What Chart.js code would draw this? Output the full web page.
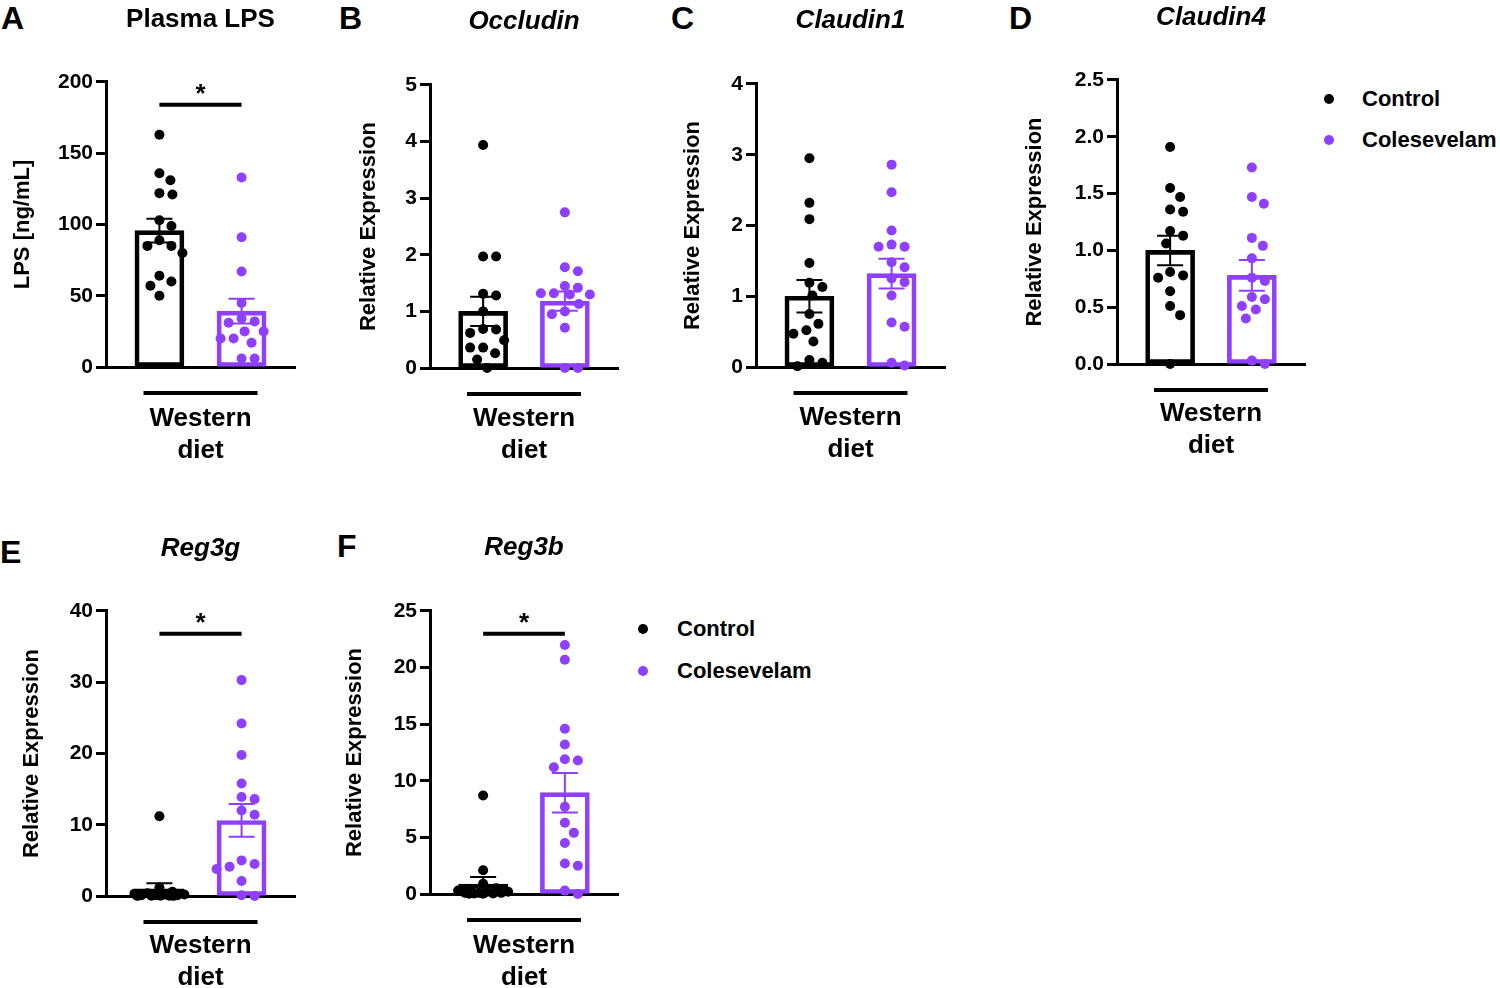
<!DOCTYPE html>
<html lang="en">
<head>
  <meta charset="UTF-8" />
  <title>Western diet – barrier and antimicrobial markers</title>
  <script src="https://cdn.jsdelivr.net/npm/chart.js"></script>
  <style>
    body {
      margin: 0;
      width: 1500px;
      height: 988px;
      overflow: hidden;
      position: relative;
      background: #fff;
      font-family: "Liberation Sans", Arial, sans-serif;
      color: #000;
    }
    .panel { position: absolute; }
    .letter {
      position: absolute;
      font-size: 32px;
      font-weight: bold;
      line-height: 1;
    }
    .legend-row {
      position: absolute;
      height: 26px;
      line-height: 26px;
      font-size: 22px;
      font-weight: bold;
      white-space: nowrap;
    }
    .legend-dot {
      position: absolute;
      width: 10px;
      height: 10px;
      border-radius: 50%;
      top: 8px;
    }
  </style>
</head>
<body>

  <div class="letter" style="left:1px; top:2px;">A</div>
  <div class="letter" style="left:339px; top:2px;">B</div>
  <div class="letter" style="left:671px; top:2px;">C</div>
  <div class="letter" style="left:1009px; top:2px;">D</div>
  <div class="letter" style="left:0px; top:536px;">E</div>
  <div class="letter" style="left:337px; top:530px;">F</div>

  <div id="legendD"></div>
  <div id="legendF"></div>

  <script>
    // ---------------------------------------------------------------
    // Data
    // ---------------------------------------------------------------
    const groups = ['Control', 'Colesevelam'];
    const groupColors = ['#000000', '#8F3FFF'];
    const dietLabel = ['Western', 'diet'];

    const panelTitles = ['Plasma LPS', 'Occludin', 'Claudin1', 'Claudin4', 'Reg3g', 'Reg3b'];
    const yTitles = ['LPS [ng/mL]', 'Relative Expression', 'Relative Expression',
                     'Relative Expression', 'Relative Expression', 'Relative Expression'];
    const yMax = [200, 5, 4, 2.5, 40, 25];
    const yStep = [50, 1, 1, 0.5, 10, 5];
    const significant = [true, false, false, false, true, true];

    // A - Plasma LPS
    const lpsControl = [163, 136, 131, 122, 121, 103, 99, 89, 85, 85, 80, 64, 60, 57, 50];
    const lpsColesevelam = [133, 91, 67, 45, 34, 32, 31, 25, 25, 20, 20, 17, 6, 6];
    const lpsMean = [95.7, 39.2];
    const lpsSem = [8.4, 8.7];

    // B - Occludin
    const occControl = [3.94, 1.97, 1.97, 1.31, 1.28, 1.0, 0.69, 0.68, 0.62, 0.49, 0.36, 0.36, 0.26, 0.15, 0];
    const occColesevelam = [2.75, 1.78, 1.71, 1.45, 1.42, 1.32, 1.32, 1.3, 1.3, 1.13, 1.0, 0.95, 0.71, 0, 0];
    const occMean = [1.0, 1.18];
    const occSem = [0.26, 0.17];

    // C - Claudin1
    const cld1Control = [2.95, 2.32, 2.09, 1.47, 1.19, 1.13, 1.01, 0.75, 0.61, 0.52, 0.47, 0.36, 0.1, 0.06, 0.01];
    const cld1Colesevelam = [2.86, 2.47, 1.93, 1.73, 1.7, 1.7, 1.48, 1.41, 1.25, 1.2, 1.01, 0.63, 0.57, 0.06, 0.02];
    const cld1Mean = [1.0, 1.32];
    const cld1Sem = [0.23, 0.21];

    // D - Claudin4
    const cld4Control = [1.91, 1.55, 1.47, 1.36, 1.34, 1.17, 1.13, 1.06, 0.81, 0.78, 0.76, 0.64, 0.51, 0.43, 0];
    const cld4Colesevelam = [1.73, 1.47, 1.41, 1.11, 1.04, 0.93, 0.76, 0.73, 0.59, 0.57, 0.51, 0.48, 0.4, 0.03, 0];
    const cld4Mean = [1.0, 0.78];
    const cld4Sem = [0.13, 0.135];

    // E - Reg3g
    const reg3gControl = [11.2, 1.2, 0.6, 0.4, 0.3, 0.2, 0.2, 0.1, 0.1, 0.1, 0.05, 0.05, 0.05, 0.02, 0.02];
    const reg3gColesevelam = [30.3, 24.2, 19.8, 15.8, 13.9, 13.6, 12.0, 11.4, 5.0, 4.5, 4.1, 3.8, 2.1, 0.1, 0];
    const reg3gMean = [1.0, 10.6];
    const reg3gSem = [0.8, 2.3];

    // F - Reg3b
    const reg3bControl = [8.7, 2.1, 0.9, 0.5, 0.4, 0.3, 0.2, 0.2, 0.1, 0.1, 0.1, 0.05, 0.05, 0.02, 0.02];
    const reg3bColesevelam = [22.0, 20.7, 14.6, 13.2, 11.9, 11.8, 11.2, 7.7, 6.3, 5.4, 4.5, 2.7, 2.5, 0.3, 0];
    const reg3bMean = [0.88, 8.95];
    const reg3bSem = [0.62, 1.75];

    const points = [
      [lpsControl, lpsColesevelam],
      [occControl, occColesevelam],
      [cld1Control, cld1Colesevelam],
      [cld4Control, cld4Colesevelam],
      [reg3gControl, reg3gColesevelam],
      [reg3bControl, reg3bColesevelam]
    ];
    const means = [lpsMean, occMean, cld1Mean, cld4Mean, reg3gMean, reg3bMean];
    const sems = [lpsSem, occSem, cld1Sem, cld4Sem, reg3gSem, reg3bSem];

    // ---------------------------------------------------------------
    // Page layout (pixel boxes of each panel)
    // ---------------------------------------------------------------
    const layouts = [
      { left: 0,   top: 0,   w: 330, h: 480, axisX: 106,  plotTop: 82,  plotBottom: 367, plotRight: 295,  titleMid: 20,  yTitleX: 23,   westernY: 419 },
      { left: 330, top: 0,   w: 330, h: 480, axisX: 430,  plotTop: 85,  plotBottom: 368, plotRight: 618,  titleMid: 22,  yTitleX: 369,  westernY: 419 },
      { left: 660, top: 0,   w: 330, h: 480, axisX: 756,  plotTop: 84,  plotBottom: 367, plotRight: 945,  titleMid: 21,  yTitleX: 693,  westernY: 418 },
      { left: 990, top: 0,   w: 330, h: 480, axisX: 1117, plotTop: 80,  plotBottom: 364, plotRight: 1305, titleMid: 18,  yTitleX: 1035, westernY: 414 },
      { left: 0,   top: 520, w: 330, h: 480, axisX: 106,  plotTop: 611, plotBottom: 896, plotRight: 295,  titleMid: 549, yTitleX: 32,   westernY: 946 },
      { left: 330, top: 520, w: 310, h: 480, axisX: 430,  plotTop: 611, plotBottom: 894, plotRight: 618,  titleMid: 548, yTitleX: 355,  westernY: 946 }
    ];

    const FONT = '"Liberation Sans", Arial, sans-serif';
    Chart.defaults.font.family = FONT;
    Chart.defaults.color = '#000';

    const X_MIN = 0.35, X_MAX = 2.65;
    const DOT_R = 5;

    // simple beeswarm: horizontal pixel offsets so the dots do not pile up
    function swarmOffsets(values, pxPerUnit) {
      const placed = [];
      return values.map(v => {
        const y = v * pxPerUnit;
        let best = 0, bestD = -1;
        for (let k = 0; k <= 50; k++) {
          const o = (k % 2 ? 1 : -1) * Math.ceil(k / 2);
          let d = Infinity;
          placed.forEach(p => { d = Math.min(d, Math.hypot(p.x - o, p.y - y)); });
          if (d >= 13) { best = o; bestD = d; break; }
          if (d > bestD) { bestD = d; best = o; }
        }
        placed.push({ x: best, y });
        return best;
      });
    }

    // error bars, significance bar and group line under the axis
    const decorations = {
      id: 'decorations',
      afterDraw(chart, args, opts) {
        const { ctx, chartArea } = chart;
        const x = chart.scales.x, y = chart.scales.y;
        ctx.save();
        opts.mean.forEach((m, i) => {
          const cx = x.getPixelForValue(i + 1);
          const top = y.getPixelForValue(m + opts.sem[i]);
          const bot = y.getPixelForValue(Math.max(0, m - opts.sem[i]));
          ctx.strokeStyle = groupColors[i];
          ctx.lineWidth = 2;
          ctx.beginPath();
          ctx.moveTo(cx, top); ctx.lineTo(cx, bot);
          ctx.moveTo(cx - 13, top); ctx.lineTo(cx + 13, top);
          ctx.moveTo(cx - 13, bot); ctx.lineTo(cx + 13, bot);
          ctx.stroke();
        });

        const x1 = x.getPixelForValue(1), x2 = x.getPixelForValue(2);
        const mid = (x1 + x2) / 2;
        ctx.strokeStyle = '#000';
        ctx.lineWidth = 4;
        ctx.beginPath();
        ctx.moveTo(mid - 57, chartArea.bottom + 26);
        ctx.lineTo(mid + 57, chartArea.bottom + 26);
        ctx.stroke();

        if (opts.significant) {
          const ly = y.getPixelForValue(y.max * 0.92);
          ctx.beginPath();
          ctx.moveTo(x1, ly); ctx.lineTo(x2, ly);
          ctx.stroke();
          ctx.fillStyle = '#000';
          ctx.font = 'bold 26px ' + FONT;
          ctx.textAlign = 'center';
          ctx.textBaseline = 'alphabetic';
          ctx.fillText('*', mid, ly - 3);
        }
        ctx.restore();
      }
    };

    function makePanel(idx) {
      const L = layouts[idx];
      const wrap = document.createElement('div');
      wrap.className = 'panel';
      wrap.style.left = L.left + 'px';
      wrap.style.top = L.top + 'px';
      const canvas = document.createElement('canvas');
      canvas.width = L.w;
      canvas.height = L.h;
      wrap.appendChild(canvas);
      document.body.appendChild(wrap);

      const plotH = L.plotBottom - L.plotTop;
      const plotW = L.plotRight - L.axisX;
      const pxPerX = plotW / (X_MAX - X_MIN);
      const pxPerY = plotH / yMax[idx];

      const scatterSets = points[idx].map((vals, g) => {
        const offs = swarmOffsets(vals, pxPerY);
        return {
          type: 'scatter',
          label: groups[g],
          data: vals.map((v, i) => ({ x: g + 1 + offs[i] / pxPerX, y: v })),
          backgroundColor: groupColors[g],
          borderWidth: 0,
          pointRadius: DOT_R,
          clip: false,
          order: 1
        };
      });

      const barSet = {
        type: 'bar',
        label: 'mean',
        data: means[idx].map((m, g) => ({ x: g + 1, y: m })),
        backgroundColor: 'rgba(255,255,255,0)',
        borderColor: groupColors,
        borderWidth: 4,
        borderSkipped: false,
        barThickness: 49,
        clip: false,
        order: 2
      };

      const titlePadTop = L.titleMid - L.top - 15.6;
      const titlePadBottom = (L.plotTop - L.top) - titlePadTop - 31.2;
      const italic = idx > 0;

      new Chart(canvas.getContext('2d'), {
        type: 'scatter',
        data: { datasets: [...scatterSets, barSet] },
        options: {
          responsive: false,
          animation: false,
          events: [],
          layout: { padding: { left: 0, top: 0, bottom: 0, right: L.left + L.w - L.plotRight } },
          plugins: {
            legend: { display: false },
            tooltip: { enabled: false },
            title: {
              display: true,
              text: panelTitles[idx],
              fullSize: false,
              font: { size: 26, weight: 'bold', style: italic ? 'italic' : 'normal', lineHeight: 1.2 },
              padding: { top: titlePadTop, bottom: titlePadBottom }
            },
            decorations: { mean: means[idx], sem: sems[idx], significant: significant[idx] }
          },
          scales: {
            x: {
              type: 'linear',
              min: X_MIN,
              max: X_MAX,
              offset: false,
              grid: { display: false, offset: false },
              ticks: { display: false },
              border: { display: true, color: '#000', width: 3 },
              title: {
                display: true,
                text: dietLabel,
                font: { size: 26, weight: 'bold', lineHeight: 32 / 26 },
                padding: { top: 0, bottom: L.top + L.h - 48 - L.westernY }
              },
              afterFit(scale) { scale.height = L.top + L.h - L.plotBottom; }
            },
            y: {
              min: 0,
              max: yMax[idx],
              ticks: {
                stepSize: yStep[idx],
                padding: 3,
                font: { size: 21, weight: 'bold' },
                callback: v => yStep[idx] < 1 ? v.toFixed(1) : v
              },
              grid: { drawOnChartArea: false, drawTicks: true, tickLength: 10, tickWidth: 3, tickColor: '#000' },
              border: { display: true, color: '#000', width: 3 },
              title: {
                display: true,
                text: yTitles[idx],
                font: { size: 22, weight: 'bold', lineHeight: 1.2 },
                padding: { top: L.yTitleX - L.left - 13.2, bottom: 0 }
              },
              afterFit(scale) { scale.width = L.axisX - L.left; }
            }
          }
        },
        plugins: [decorations]
      });
    }

    for (let i = 0; i < 6; i++) makePanel(i);

    // legends (panels D and F)
    function makeLegend(id, dotX, rowsY, textX) {
      const box = document.getElementById(id);
      groups.forEach((name, g) => {
        const row = document.createElement('div');
        row.className = 'legend-row';
        row.style.left = (dotX - 5) + 'px';
        row.style.top = (rowsY[g] - 13) + 'px';
        row.style.paddingLeft = (textX - dotX + 5) + 'px';
        const dot = document.createElement('span');
        dot.className = 'legend-dot';
        dot.style.left = '0px';
        dot.style.background = groupColors[g];
        row.appendChild(dot);
        row.appendChild(document.createTextNode(name));
        box.appendChild(row);
      });
    }
    makeLegend('legendD', 1329, [99, 140], 1362);
    makeLegend('legendF', 643, [629, 671], 677);
  </script>
</body>
</html>
